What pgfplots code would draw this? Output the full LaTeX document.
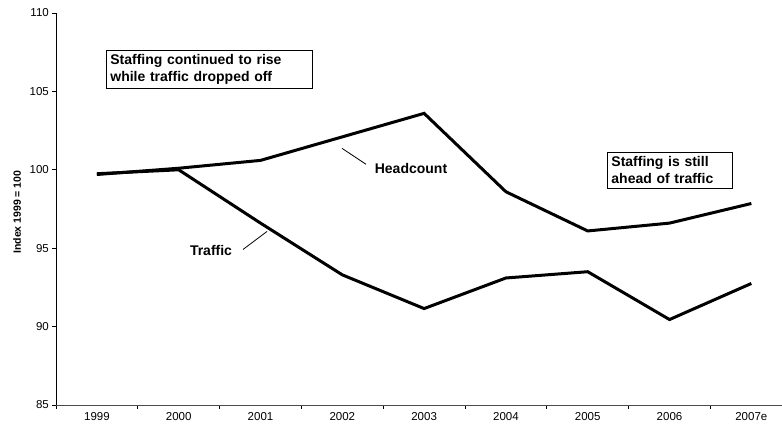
\documentclass[border=0pt]{standalone}
\usepackage{pgfplots}
\pgfplotsset{compat=1.18}
\usepackage{fontspec}
\setmainfont{Liberation Sans}
\begin{document}
\begin{tikzpicture}
\useasboundingbox (0,0) rectangle (782pt,425pt);
\begin{axis}[
  at={(56pt,20pt)}, anchor=south west,
  scale only axis, width=726pt, height=392pt,
  xmin=-0.5, xmax=8.375,
  ymin=85, ymax=110,
  axis x line=bottom, axis y line=left,
  axis line style={-, line width=0.8pt},
  x axis line style={black!70},
  xtick={0,...,8},
  xticklabels={1999,2000,2001,2002,2003,2004,2005,2006,2007e},
  minor xtick={-0.5,0.5,1.5,2.5,3.5,4.5,5.5,6.5,7.5},
  ytick={85,90,95,100,105,110},
  tick align=outside,
  x tick style={draw=none},
  minor x tick style={draw=black, line width=0.8pt},
  minor tick length=4pt,
  y tick style={black, line width=0.8pt},
  major tick length=4pt,
  xticklabel style={font=\fontsize{11.5}{12}\selectfont, inner sep=0pt, yshift=-3pt},
  yticklabel style={font=\fontsize{11.5}{12}\selectfont, inner sep=0pt, xshift=-3pt},
  /pgf/number format/assume math mode=true,
  ylabel={\textbf{Index 1999 = 100}},
  ylabel style={font=\fontsize{10.5}{12}\selectfont, at={(axis description cs:-0.0537,0.492)}, anchor=center, rotate=0},
  clip=false,
]
\addplot[black, line width=3pt, line join=miter] coordinates {
 (0,99.7) (1,100.1) (2,100.6) (3,102.1) (4,103.6) (5,98.6) (6,96.1) (7,96.6) (8,97.85)
};
\addplot[black, line width=3pt, line join=miter] coordinates {
 (0,99.75) (1,100.0) (2,96.6) (3,93.3) (4,91.15) (5,93.1) (6,93.5) (7,90.45) (8,92.75)
};
\node[draw=black, line width=0.8pt, anchor=north west, inner sep=4pt, text width=198pt, align=left,
  font=\fontsize{14}{17}\selectfont\bfseries] at (axis cs:0.111,107.64)
  {Staffing continued to rise\\while traffic dropped off};
\node[draw=black, line width=0.8pt, anchor=north west, inner sep=4pt, text width=117pt, align=left,
  font=\fontsize{14}{17}\selectfont\bfseries] at (axis cs:6.236,101.12)
  {Staffing is still\\ahead of traffic};
\node[font=\fontsize{14}{17}\selectfont\bfseries] at (axis cs:3.84,100.1) {Headcount};
\draw[black, line width=0.8pt] (axis cs:2.996,101.37) -- (axis cs:3.29,100.35);
\node[font=\fontsize{14}{17}\selectfont\bfseries] at (axis cs:1.395,94.86) {Traffic};
\draw[black, line width=0.8pt] (axis cs:1.786,94.92) -- (axis cs:2.08,96.07);
\end{axis}
\end{tikzpicture}
\end{document}
